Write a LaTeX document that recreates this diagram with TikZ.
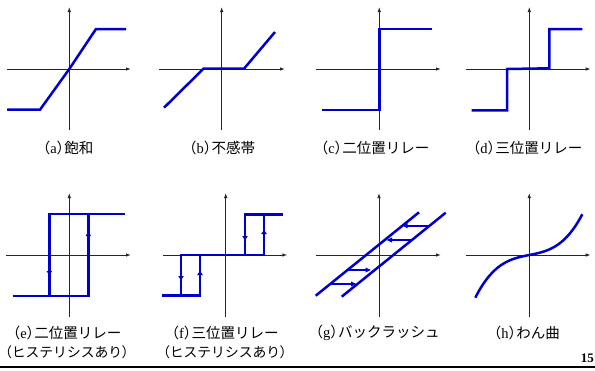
\documentclass[tikz,border=0pt]{standalone}
\usepackage{fontspec}
\setmainfont{Liberation Serif}
\newfontfamily\jp{Noto Sans CJK JP}
\newfontfamily\jpp[RawFeature=+palt]{Noto Sans CJK JP}
\usetikzlibrary{arrows.meta}
\newcommand{\mylbl}[2]{{\jpp （}\kern0.5pt#1\kern0.5pt{\jpp ）}{\jp #2}}
\tikzset{
  axis/.style={line width=0.9pt, draw=black!85, -{Latex[length=5pt,width=3.5pt]}},
  curve/.style={line width=2.5pt, draw=blue!80!black, line join=miter},
  harrow/.style={line width=2.4pt, draw=blue!80!black, -{Latex[length=6pt,width=5.5pt]}},
  hsmall/.style={line width=2.5pt, draw=blue!80!black, -{Latex[length=5pt,width=6pt]}},
  lbl/.style={font=\fontsize{14.5}{16}\selectfont, inner sep=0pt},
  lbltwo/.style={font=\fontsize{13.8}{16}\selectfont, inner sep=0pt},
}
\begin{document}
\begin{tikzpicture}[x=1pt,y=-1pt]
\useasboundingbox (0,0) rectangle (595,370);
\fill[white] (0,0) rectangle (595,370);
% ---------- (a) ----------
\draw[axis] (69.3,130) -- (69.3,7);
\draw[axis] (7,69) -- (131,69);
\draw[curve] (7,109.7) -- (40,109.7) -- (69.3,69) -- (96,29) -- (126,29);
\node[lbl] (la) at (68,148) {\mylbl{a}{飽和}};
% ---------- (b) ----------
\draw[axis] (221.7,130) -- (221.7,7);
\draw[axis] (159,69) -- (285,69);
\draw[curve] (164,107.7) -- (203.5,68.7) -- (244,68.7) -- (275,32);
\node[lbl] (lb) at (222,148) {\mylbl{b}{不感帯}};
% ---------- (c) ----------
\draw[axis] (379.3,130) -- (379.3,7);
\draw[axis] (316,69) -- (441,69);
\draw[curve] (321.7,110) -- (379.3,110) -- (379.3,29) -- (431.7,29);
\node[lbl] (lc) at (375,148) {\mylbl{c}{二位置リレー}};
% ---------- (d) ----------
\draw[axis] (529.3,130) -- (529.3,7);
\draw[axis] (466,69) -- (590.7,69);
\draw[curve] (471.7,110.3) -- (507,110.3) -- (507,69) -- (549.3,68.3) -- (549.3,29) -- (582.3,29);
\node[lbl] (ld) at (527.5,148) {\mylbl{d}{三位置リレー}};
% ---------- (e) ----------
\draw[axis] (69.3,317) -- (69.3,193);
\draw[axis] (6,255) -- (131,255);
\draw[curve] (12.7,296) -- (88.3,296) -- (88.3,214);
\draw[curve] (125,214) -- (49.3,214) -- (49.3,296);
\draw[hsmall] (49.3,266) -- (49.3,276);
\draw[hsmall] (88.3,241) -- (88.3,231);
\node[lbl] (le1) at (67,333) {\mylbl{e}{二位置リレー}};
\node[lbltwo] (le2) at (67,352) {{\jpp （}{\jp ヒステリシスあり}{\jpp ）}};
% ---------- (f) ----------
\draw[axis] (225.7,317) -- (225.7,193);
\draw[axis] (163.3,255) -- (287.3,255);
\draw[curve] (161.7,295.5) -- (200,295.5) -- (200,255) -- (181,255) -- (181,295.5);
\draw[curve] (181,255) -- (264,255) -- (264,214.3) -- (245,214.3) -- (245,255);
\draw[curve] (264,214.3) -- (282.7,214.3);
\draw[hsmall] (181,271) -- (181,281);
\draw[hsmall] (200,280) -- (200,270);
\draw[hsmall] (245,231) -- (245,241);
\draw[hsmall] (264,239) -- (264,229);
\node[lbl] (lf1) at (225,333) {\mylbl{f}{三位置リレー}};
\node[lbltwo] (lf2) at (225,352) {{\jpp （}{\jp ヒステリシスあり}{\jpp ）}};
% ---------- (g) ----------
\draw[axis] (379,317) -- (379,193);
\draw[axis] (316,255) -- (441,255);
\draw[curve] (315.7,295.7) -- (419,212.3);
\draw[curve] (341.7,296.7) -- (445.7,212.7);
\draw[harrow] (428.5,225.7) -- (401.5,225.7);
\draw[harrow] (412.5,240) -- (386,240);
\draw[harrow] (346.5,270) -- (371.5,270);
\draw[harrow] (330,284) -- (357,284);
\node[lbl] (lg) at (377.5,333) {\mylbl{g}{バックラッシュ}};
% ---------- (h) ----------
\draw[axis] (529.3,317) -- (529.3,193);
\draw[axis] (466,255) -- (590.7,255);
\draw[curve, line join=round] plot[domain=-54:53, samples=80, smooth]
  ({529.3+\x}, {255-42.7*(0.25*(\x/54)+0.75*(\x/54)^3)});
\node[lbl] (lh) at (526.7,333) {\mylbl{h}{わん曲}};
% ---------- footer ----------
\node[font=\bfseries\fontsize{13}{14}\selectfont, anchor=east, inner sep=0pt] (pg) at (594,358) {15};
\draw[line width=1.5pt] (0,367) -- (595,367);
\end{tikzpicture}
\end{document}
